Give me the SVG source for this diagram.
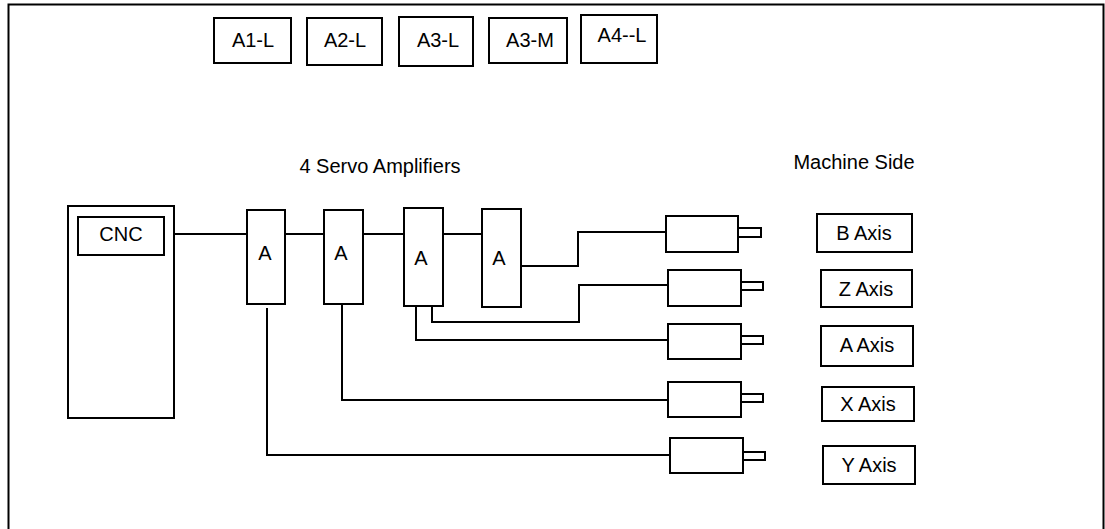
<svg xmlns="http://www.w3.org/2000/svg" width="1105" height="529" viewBox="0 0 1105 529">
<style>
.b{fill:#fff;stroke:#000;stroke-width:2}
.l{fill:none;stroke:#000;stroke-width:2}
text{font-family:"Liberation Sans",Arial,sans-serif;font-size:20px;fill:#000;text-anchor:middle}
</style>
<rect x="0" y="0" width="1105" height="529" fill="#fff"/>
<path class="l" d="M8.5,535 V4.5 H1103.5 V535"/>
<g id="a1l"><rect class="b" x="214" y="18" width="77" height="45"/><text x="253" y="47">A1-L</text></g>
<g id="a2l"><rect class="b" x="307" y="18" width="75" height="47"/><text x="345" y="47">A2-L</text></g>
<g id="a3l"><rect class="b" x="399" y="17" width="74" height="49"/><text x="438" y="47">A3-L</text></g>
<g id="a3m"><rect class="b" x="489" y="18" width="78" height="45"/><text x="530" y="47">A3-M</text></g>
<g id="a4l"><rect class="b" x="581" y="15" width="76" height="48"/><text x="622" y="42">A4--L</text></g>
<g id="lbl-servo"><text x="380" y="173">4 Servo Amplifiers</text></g>
<g id="lbl-machine"><text x="854" y="169">Machine Side</text></g>
<g id="connectors">
<path class="l" d="M174,234 H247"/>
<path class="l" d="M285,234 H324"/>
<path class="l" d="M363,234 H404"/>
<path class="l" d="M443,234 H482"/>
<path class="l" d="M521,266 H578 V232 H666"/>
<path class="l" d="M432,306 V322 H579 V285 H668"/>
<path class="l" d="M416,306 V340 H668"/>
<path class="l" d="M342,304 V400 H668"/>
<path class="l" d="M267,308 V455 H670"/>
</g>
<g id="cnc"><rect class="b" x="68" y="206" width="106" height="212"/><rect class="b" x="78" y="217" width="86" height="38"/><text x="121" y="241">CNC</text></g>
<g id="amp1"><rect class="b" x="247" y="210" width="38" height="94"/><text x="265" y="260">A</text></g>
<g id="amp2"><rect class="b" x="324" y="210" width="39" height="94"/><text x="341" y="260">A</text></g>
<g id="amp3"><rect class="b" x="404" y="208" width="39" height="98"/><text x="421" y="265">A</text></g>
<g id="amp4"><rect class="b" x="482" y="209" width="39" height="98"/><text x="499" y="265">A</text></g>
<g id="motor-b"><rect class="b" x="666" y="216" width="72" height="36"/><rect class="b" x="738" y="228" width="23" height="9"/></g>
<g id="motor-z"><rect class="b" x="668" y="270" width="73" height="36"/><rect class="b" x="741" y="282" width="22" height="8"/></g>
<g id="motor-a"><rect class="b" x="668" y="324" width="73" height="35"/><rect class="b" x="741" y="336" width="22" height="8"/></g>
<g id="motor-x"><rect class="b" x="668" y="382" width="73" height="35"/><rect class="b" x="741" y="394" width="22" height="8"/></g>
<g id="motor-y"><rect class="b" x="670" y="438" width="73" height="35"/><rect class="b" x="743" y="452" width="22" height="8"/></g>
<g id="axis-b"><rect class="b" x="817" y="214" width="95" height="38"/><text x="864" y="240">B Axis</text></g>
<g id="axis-z"><rect class="b" x="821" y="270" width="91" height="37"/><text x="866" y="296">Z Axis</text></g>
<g id="axis-a"><rect class="b" x="821" y="326" width="92" height="40"/><text x="867" y="352">A Axis</text></g>
<g id="axis-x"><rect class="b" x="822" y="387" width="92" height="34"/><text x="868" y="411">X Axis</text></g>
<g id="axis-y"><rect class="b" x="823" y="446" width="92" height="38"/><text x="869" y="472">Y Axis</text></g>
</svg>
